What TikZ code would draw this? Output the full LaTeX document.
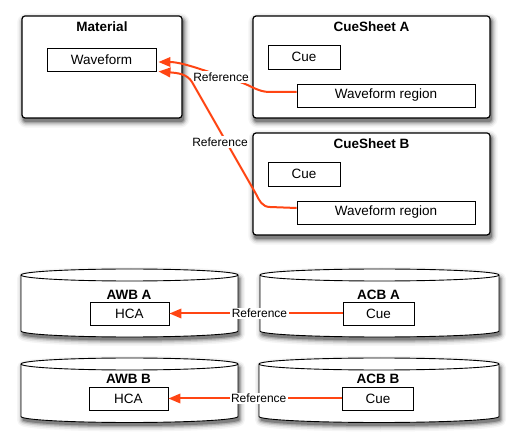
\documentclass[tikz,border=0pt]{standalone}
\usepackage{fontspec}
\setmainfont{Liberation Sans}
\usetikzlibrary{arrows.meta,calc,backgrounds}
\definecolor{refc}{HTML}{FF4513}
\newcommand\softshadow[1]{%
  \path[shift={(1.5,3.5)}, draw=black!4, line width=11pt, line join=round] #1;
  \path[shift={(1.5,3.5)}, draw=black!10, line width=8pt, line join=round] #1;
  \path[shift={(1.5,3.5)}, draw=black!20, line width=5pt, line join=round] #1;
  \path[shift={(1.5,3.5)}, draw=black!33, line width=2.5pt, line join=round] #1;
  \path[shift={(1.5,3.5)}, fill=black!50] #1;}
\newcommand\cylpath[5]{(#1,#3+6) -- (#1,#4-6) arc[start angle=180,end angle=360,x radius=#5pt,y radius=6pt]
  -- (#2,#3+6) arc[start angle=0,end angle=180,x radius=#5pt,y radius=6pt] -- cycle}
\newcommand\boxpath[1]{[rounded corners=3pt] ([shift={(1.5pt,-3.5pt)}]#1.north west) rectangle ([shift={(1.5pt,-3.5pt)}]#1.south east)}
\begin{document}
\begin{tikzpicture}[x=1pt,y=-1pt,
  outer/.style={draw, rounded corners=3pt, line width=1.2pt, fill=white},
  inner/.style={draw, line width=0.9pt, fill=white, inner sep=0pt, font=\fontsize{13.5}{15}\selectfont},
  title/.style={font=\bfseries\fontsize{13.5}{15}\selectfont, inner sep=0pt},
  reflbl/.style={fill=white, inner sep=1.5pt, font=\fontsize{12}{14}\selectfont},
  refline/.style={draw=refc, line width=2pt, -{Triangle[length=12pt,width=9.5pt]}},
  cylbody/.style={draw, fill=white, line width=0.9pt},
  cylline/.style={draw, line width=0.9pt}]
\useasboundingbox (0,0) rectangle (517,446);

% ---- Material
\node[outer, minimum width=160pt, minimum height=102pt] (mat) at (102,67) {};
\node[title] (matT) at (102,27) {Material};
\node[inner, minimum width=109pt, minimum height=23pt] (wf) at (101.5,59.5) {Waveform};

% ---- CueSheet A
\node[outer, minimum width=237pt, minimum height=102pt] (csA) at (371.5,67) {};
\node[title] (csAT) at (371.5,27) {CueSheet A};
\node[inner, minimum width=72pt, minimum height=24pt] (cueA) at (304,57) {Cue};
\node[inner, minimum width=178pt, minimum height=23pt] (wrA) at (386,95.5) {Waveform region};

% ---- CueSheet B
\node[outer, minimum width=237pt, minimum height=102pt] (csB) at (371.5,184) {};
\node[title] (csBT) at (371.5,144) {CueSheet B};
\node[inner, minimum width=72pt, minimum height=24pt] (cueB) at (304,174) {Cue};
\node[inner, minimum width=178pt, minimum height=23pt] (wrB) at (386,212.5) {Waveform region};

\begin{scope}[on background layer]
  \softshadow{\boxpath{mat}}
  \softshadow{\boxpath{csA}}
  \softshadow{\boxpath{csB}}
\end{scope}

% ---- references to Waveform
\draw[refline] ($(wrA.west)+(0,-3.5)$) -- (270,92) .. controls (258,92) and (252,86) .. (240,82)
  -- (200,69) .. controls (185,64) and (175,62) .. ($(wf.east)+(2,2.5)$);
\node[reflbl] (refA) at (221,77) {Reference};

\draw[refline] ($(wrB.west)+(0,-4.5)$) -- (270,207) .. controls (262,207) and (259,200) .. (256,194)
  -- (192,82) .. controls (187,74) and (178,73) .. ($(wf.east)+(2,12)$);
\node[reflbl] (refB) at (220,142) {Reference};

% ---- cylinders row 1
\softshadow{\cylpath{21}{238}{269}{337}{108.5}}
\softshadow{\cylpath{260}{499}{269}{337}{119.5}}
\path[cylbody] \cylpath{21}{238}{269}{337}{108.5};
\path[cylline] (21,275) arc[start angle=180,end angle=360,x radius=108.5pt,y radius=6pt];
\path[cylbody] \cylpath{260}{499}{269}{337}{119.5};
\path[cylline] (260,275) arc[start angle=180,end angle=360,x radius=119.5pt,y radius=6pt];

% ---- cylinders row 2
\softshadow{\cylpath{21}{238}{358}{422.5}{108.5}}
\softshadow{\cylpath{259}{499}{358}{422.5}{120}}
\path[cylbody] \cylpath{21}{238}{358}{422.5}{108.5};
\path[cylline] (21,364) arc[start angle=180,end angle=360,x radius=108.5pt,y radius=6pt];
\path[cylbody] \cylpath{259}{499}{358}{422.5}{120};
\path[cylline] (259,364) arc[start angle=180,end angle=360,x radius=120pt,y radius=6pt];

% ---- labels and boxes in cylinders
\node[title] (awbA) at (129,294.5) {AWB A};
\node[title] (acbA) at (378.5,294.5) {ACB A};
\node[inner, minimum width=79pt, minimum height=23pt] (hcaA) at (129.5,313.5) {HCA};
\node[inner, minimum width=71pt, minimum height=23pt] (cueA2) at (378.5,313.5) {Cue};

\node[title] (awbB) at (128.5,379) {AWB B};
\node[title] (acbB) at (378,379) {ACB B};
\node[inner, minimum width=79pt, minimum height=23pt] (hcaB) at (128.5,398.5) {HCA};
\node[inner, minimum width=71pt, minimum height=23pt] (cueB2) at (378,398.5) {Cue};

\draw[refline] (cueA2.west) -- node[reflbl, pos=0.48] (refC) {Reference} (hcaA.east);
\draw[refline] (cueB2.west) -- node[reflbl, pos=0.48] (refD) {Reference} (hcaB.east);
\end{tikzpicture}
\end{document}
